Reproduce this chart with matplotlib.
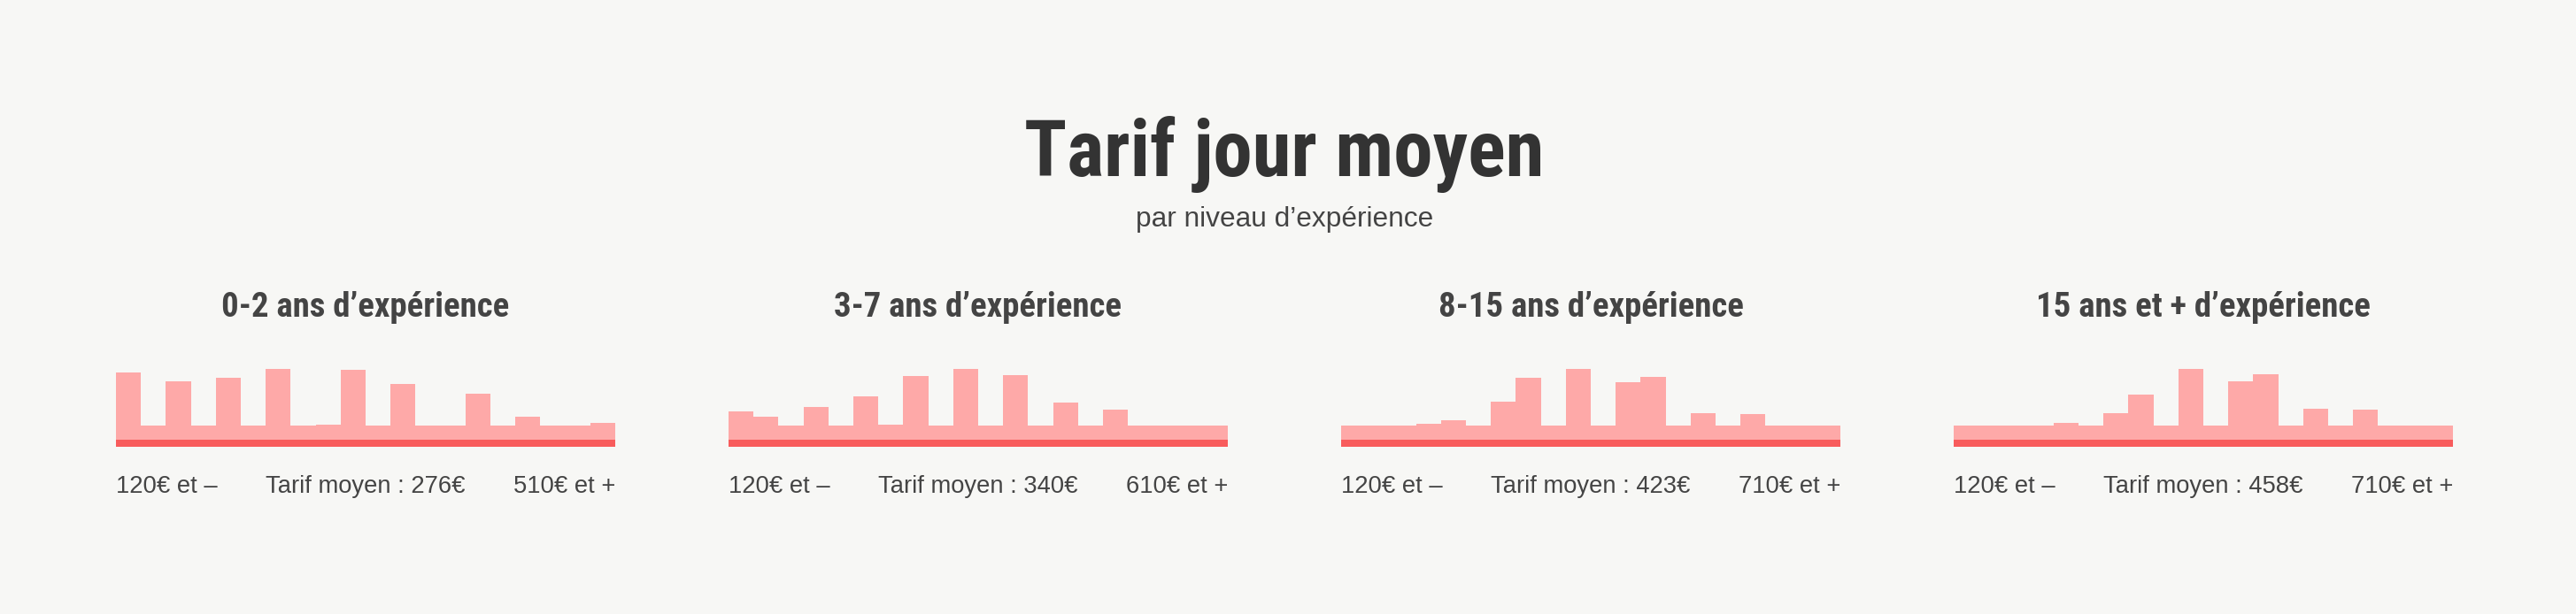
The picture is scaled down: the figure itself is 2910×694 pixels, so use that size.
import numpy as np
import matplotlib
matplotlib.use("Agg")
import matplotlib.pyplot as plt
from matplotlib import font_manager

# --- data ---
panel_titles = ["0-2 ans d’expérience", "3-7 ans d’expérience",
                "8-15 ans d’expérience", "15 ans et + d’expérience"]
low_labels = ["120€ et –", "120€ et –", "120€ et –", "120€ et –"]
high_labels = ["510€ et +", "610€ et +", "710€ et +", "710€ et +"]
mean_rates = [276, 340, 423, 458]

# relative share per price bin (20 bins, lowest to highest)
junior = [179, 0, 149, 0, 161, 0, 191, 0, 2, 188, 0, 140, 0, 0, 107, 0, 29, 0, 0, 8]
confirmed = [47, 29, 0, 62, 0, 98, 2, 167, 0, 191, 0, 170, 0, 77, 0, 53, 0, 0, 0, 0]
senior = [0, 0, 0, 5, 17, 0, 80, 161, 0, 191, 0, 146, 164, 0, 41, 0, 38, 0, 0, 0]
expert = [0, 0, 0, 0, 8, 0, 41, 104, 0, 191, 0, 149, 173, 0, 56, 0, 53, 0, 0, 0]
series = [junior, confirmed, senior, expert]

# --- style ---
BG = "#F7F7F5"
PINK = "#FEA9A8"
RED = "#F85C5C"
DARK = "#333333"
GREY = "#444444"
BASE = 49      # minimum pink band
STRIP = 23     # red strip under the bars

W, H, DPI = 2910, 694, 100

names = {f.name for f in font_manager.fontManager.ttflist}
narrow = next((n for n in ["Liberation Sans Narrow", "Roboto Condensed", "DejaVu Sans"]
               if n in names), "DejaVu Sans")
regular = next((n for n in ["Liberation Sans", "Inter", "DejaVu Sans"] if n in names),
               "DejaVu Sans")

fig = plt.figure(figsize=(W / DPI, H / DPI), dpi=DPI, facecolor=BG)
renderer = fig.canvas.get_renderer()


def fit(txt, target_px):
    # scale font so that the text spans target_px
    w = txt.get_window_extent(renderer).width
    return txt.get_fontsize() * target_px / w


def px(x, y):
    return x / W, 1 - y / H


# title + subtitle
t = fig.text(*px(1451, 199), "Tarif jour moyen", ha="center", va="baseline",
             fontsize=40, family=narrow, weight="bold", color=DARK)
t.set_fontsize(fit(t, 587))
s = fig.text(*px(1451, 256), "par niveau d’expérience", ha="center", va="baseline",
             fontsize=14, family=regular, color=GREY)
s.set_fontsize(fit(s, 339))

lefts = [131, 823, 1515, 2207]
pw = 564
ax_bottom = (H - 505) / H
ax_height = (240 + STRIP) / 3 / H

head_size = None
lab_size = None
for i, vals in enumerate(series):
    x0 = lefts[i]
    cx = x0 + pw / 2
    ax = fig.add_axes([x0 / W, ax_bottom, pw / W, ax_height])
    ax.set_facecolor("none")
    edges = np.arange(len(vals) + 1)
    ax.stairs(np.array(vals) + BASE, edges, fill=True, baseline=0, color=PINK, linewidth=0)
    ax.bar(0, STRIP, width=len(vals), bottom=-STRIP, align="edge", color=RED, linewidth=0)
    ax.set_xlim(0, len(vals))
    ax.set_ylim(-STRIP, 240)
    ax.axis("off")

    h = fig.text(*px(cx, 358), panel_titles[i], ha="center", va="baseline",
                 fontsize=20, family=narrow, weight="bold", color=GREY)
    if head_size is None:
        head_size = fit(h, 323)
    h.set_fontsize(head_size)

    m = fig.text(*px(cx, 557), f"Tarif moyen : {mean_rates[i]}€", ha="center",
                 va="baseline", fontsize=14, family=regular, color=GREY)
    if lab_size is None:
        lab_size = fit(m, 226)
    m.set_fontsize(lab_size)
    fig.text(*px(x0, 557), low_labels[i], ha="left", va="baseline",
             fontsize=lab_size, family=regular, color=GREY)
    fig.text(*px(x0 + pw, 557), high_labels[i], ha="right", va="baseline",
             fontsize=lab_size, family=regular, color=GREY)

fig.savefig("out.png", dpi=DPI, facecolor=BG)
